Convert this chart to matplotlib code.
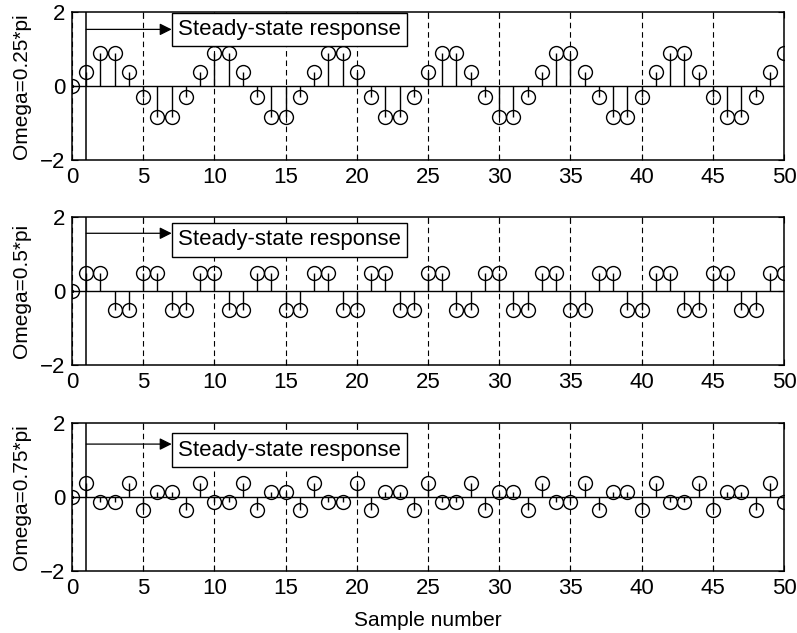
import numpy as np
import matplotlib
matplotlib.use("Agg")
import matplotlib.pyplot as plt

plt.rcParams['font.family'] = ['Liberation Sans', 'DejaVu Sans']

n = np.arange(0, 51)

# Omega = 0.25*pi
y1 = [0, 0.38, 0.9, 0.9, 0.38, -0.29, -0.83, -0.83, -0.29,
      0.38, 0.9, 0.9, 0.38, -0.29, -0.83, -0.83, -0.29,
      0.38, 0.9, 0.9, 0.38, -0.29, -0.83, -0.83, -0.29,
      0.38, 0.9, 0.9, 0.38, -0.29, -0.83, -0.83, -0.29,
      0.38, 0.9, 0.9, 0.38, -0.29, -0.83, -0.83, -0.29,
      0.38, 0.9, 0.9, 0.38, -0.29, -0.83, -0.83, -0.29,
      0.38, 0.9]
# Omega = 0.5*pi
y2 = [0, 0.5, 0.5, -0.5, -0.5, 0.5, 0.5, -0.5, -0.5,
      0.5, 0.5, -0.5, -0.5, 0.5, 0.5, -0.5, -0.5,
      0.5, 0.5, -0.5, -0.5, 0.5, 0.5, -0.5, -0.5,
      0.5, 0.5, -0.5, -0.5, 0.5, 0.5, -0.5, -0.5,
      0.5, 0.5, -0.5, -0.5, 0.5, 0.5, -0.5, -0.5,
      0.5, 0.5, -0.5, -0.5, 0.5, 0.5, -0.5, -0.5,
      0.5, 0.5]
# Omega = 0.75*pi
y3 = [0, 0.375, -0.125, -0.125, 0.375, -0.34, 0.14, 0.14, -0.34,
      0.375, -0.125, -0.125, 0.375, -0.34, 0.14, 0.14, -0.34,
      0.375, -0.125, -0.125, 0.375, -0.34, 0.14, 0.14, -0.34,
      0.375, -0.125, -0.125, 0.375, -0.34, 0.14, 0.14, -0.34,
      0.375, -0.125, -0.125, 0.375, -0.34, 0.14, 0.14, -0.34,
      0.375, -0.125, -0.125, 0.375, -0.34, 0.14, 0.14, -0.34,
      0.375, -0.125]

series = [y1, y2, y3]
ylabels = ["Omega=0.25*pi", "Omega=0.5*pi", "Omega=0.75*pi"]
arrow_y = [1.53, 1.56, 1.43]
box_y = [1.53, 1.38, 1.27]

fig = plt.figure(figsize=(7.97, 6.33), dpi=100)
tops = [12, 217, 423]
h = 148
for i in range(3):
    ax = fig.add_axes([72/797, 1 - (tops[i] + h)/633, 712/797, h/633])
    ml, sl, bl = ax.stem(n, series[i], linefmt="k-", markerfmt="ko", basefmt="k-")
    plt.setp(ml, markerfacecolor="none", markersize=10, markeredgewidth=1.0)
    plt.setp(sl, linewidth=1.0)
    plt.setp(bl, linewidth=1.0)
    ax.plot([0], [0], "k.", markersize=3)
    ax.set_xlim(0, 50)
    ax.set_ylim(-2, 2)
    ax.set_xticks(np.arange(0, 51, 5))
    ax.set_yticks([-2, 0, 2])
    ax.set_yticklabels(["\u22122", "0", "2"])
    ax.tick_params(direction="in", top=True, right=True, labelsize=16,
                   length=4, pad=5)
    ax.xaxis.grid(True, linestyle=(0, (5, 3.5)), color="k", linewidth=0.8)
    ax.axvline(1, color="k", linewidth=1.1)
    ax.annotate("", xy=(7.0, arrow_y[i]), xytext=(1, arrow_y[i]),
                arrowprops=dict(arrowstyle="-|>", color="k", lw=0.9,
                                mutation_scale=18, shrinkA=0, shrinkB=0))
    ax.text(7.45, box_y[i], "Steady-state response", fontsize=16,
            va="center", ha="left",
            bbox=dict(boxstyle="square,pad=0.28", facecolor="white",
                      edgecolor="k", linewidth=1.0))
    ax.set_ylabel(ylabels[i], fontsize=15, labelpad=6)
    for s in ax.spines.values():
        s.set_linewidth(1.1)
    if i == 2:
        ax.set_xlabel("Sample number", fontsize=15, labelpad=9)

fig.savefig("out.png", dpi=100)
